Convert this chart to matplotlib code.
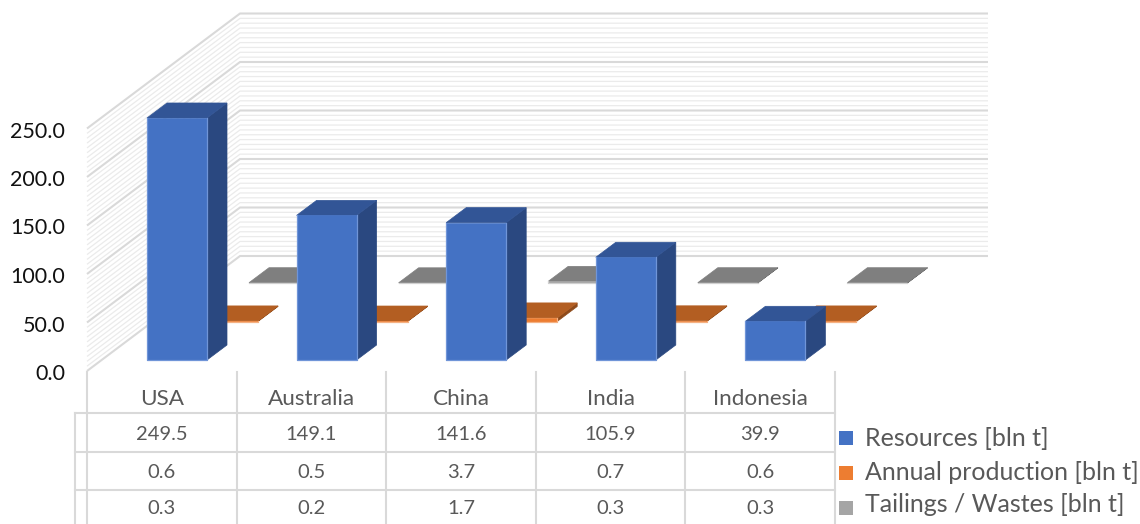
import matplotlib
matplotlib.use('Agg')
import matplotlib.pyplot as plt
from matplotlib.patches import Polygon, Rectangle

plt.rcParams['font.family'] = ['Lato', 'DejaVu Sans']

categories = ['USA', 'Australia', 'China', 'India', 'Indonesia']
resources = [249.5, 149.1, 141.6, 105.9, 39.9]
production = [0.6, 0.5, 3.7, 0.7, 0.6]
tailings = [0.3, 0.2, 1.7, 0.3, 0.3]
series_names = ['Resources [bln t]', 'Annual production [bln t]', 'Tailings / Wastes [bln t]']
y_ticks = [0, 50, 100, 150, 200, 250]

# pixel geometry of the 3d box
x0, y0 = 87, 371
cat_w = 149.6
y_scale = 0.97
dx, dy = 153, -115   # floor depth vector
wall_right = 988

# series 0 front edge sits this far into the floor, one step per series
first_x, first_y = 60, -11
step_x, step_y = 51, -38.5
bar_w = 60
bar_dx, bar_dy = 20, -15

colors = [('#4472C4', '#325596', '#2A4880', '#7095D8'),
          ('#ED7D31', '#B35E22', '#8E4A1A', '#F4B183'),
          ('#A5A5A5', '#7F7F7F', '#636363', '#D0D0D0')]

fig = plt.figure(figsize=(11.4, 5.24), dpi=100)
ax = fig.add_axes([0, 0, 1, 1])
ax.set_xlim(0, 1140)
ax.set_ylim(524, 0)
ax.axis('off')


def val_y(v):
    return v * y_scale


# walls: minor lines first, then the major ones on top
for v in range(0, 251, 5):
    major = v % 50 == 0
    col = '#D9D9D9' if major else '#EBEBEB'
    lw = 1.5 if major else 0.9
    z = 2 if major else 1
    ax.plot([x0, x0 + dx, wall_right],
            [y0 - val_y(v), y0 + dy - val_y(v), y0 + dy - val_y(v)],
            color=col, lw=lw, zorder=z, solid_capstyle='butt')


def draw_bar(cat, ser, value, z):
    c_front, c_top, c_side, c_edge = colors[ser]
    left = x0 + cat * cat_w + first_x + ser * step_x
    bottom = y0 + first_y + ser * step_y
    top = bottom - val_y(value)
    right = left + bar_w
    faces = [
        ([(right, bottom), (right + bar_dx, bottom + bar_dy),
          (right + bar_dx, top + bar_dy), (right, top)], c_side),
        ([(left, top), (right, top), (right + bar_dx, top + bar_dy),
          (left + bar_dx, top + bar_dy)], c_top),
        ([(left, bottom), (right, bottom), (right, top), (left, top)], c_front),
    ]
    for pts, col in faces:
        ax.add_patch(Polygon(pts, closed=True, facecolor=col, edgecolor=col, lw=0.5, zorder=z))
    ax.plot([left, left, right, right], [top, bottom, bottom, top],
            color=c_edge, lw=0.9, zorder=z)


# back series first so that the front ones cover them
all_series = [resources, production, tailings]
z = 3
for ser in [2, 1, 0]:
    for cat in range(len(categories)):
        draw_bar(cat, ser, all_series[ser][cat], z)
        z += 1

# y tick labels
for v in y_ticks:
    ax.text(65, y0 - val_y(v) + 3, f'{v:.1f}', ha='right', va='center', fontsize=15.5, color='#111111')

# data table
grid = '#D9D9D9'
row_lines = [413, 452, 490]
table_text = '#595959'
for i in range(len(categories) + 1):
    xx = x0 + i * cat_w
    ax.plot([xx, xx], [372, 524], color=grid, lw=1.5, zorder=2)
ax.plot([75, 75], [row_lines[0], 524], color=grid, lw=1.5, zorder=2)
for yy in row_lines:
    ax.plot([75, x0 + len(categories) * cat_w], [yy, yy], color=grid, lw=1.5, zorder=2)

rows = [categories,
        [f'{v:.1f}' for v in resources],
        [f'{v:.1f}' for v in production],
        [f'{v:.1f}' for v in tailings]]
row_y = [399, 434, 472, 509]
row_size = [16.2, 14.5, 14.5, 14.5]
for labels, yy, fs in zip(rows, row_y, row_size):
    for i, lab in enumerate(labels):
        ax.text(x0 + (i + 0.5) * cat_w, yy, lab, ha='center', va='center',
                fontsize=fs, color=table_text)

# legend
legend_y = [438, 473, 508]
legend_text_y = [439, 472, 504]
for name, c, sy, ty in zip(series_names, colors, legend_y, legend_text_y):
    ax.add_patch(Rectangle((839, sy - 7), 14, 14, facecolor=c[0], edgecolor='none', zorder=5))
    ax.text(865, ty, name, ha='left', va='center', fontsize=18, color=table_text)

fig.savefig('out.png', dpi=100)
